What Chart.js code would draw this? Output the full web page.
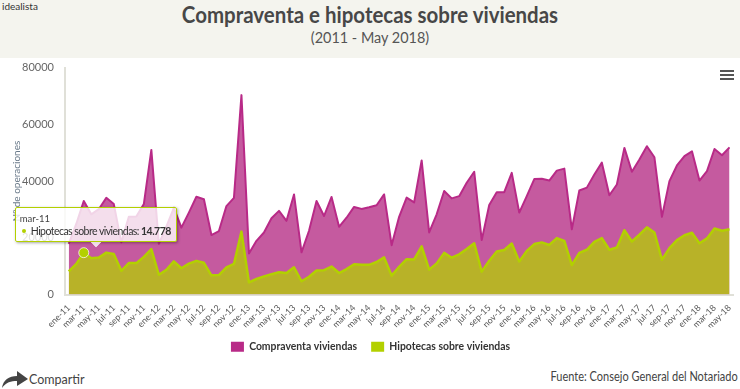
<!DOCTYPE html>
<html><head><meta charset="utf-8">
<script src="https://cdn.jsdelivr.net/npm/chart.js@4"></script>
<style>
html,body{margin:0;padding:0;background:#fff;width:740px;height:389px;overflow:hidden;font-family:Lato,sans-serif}
#hdr{position:absolute;left:0;top:0;width:740px;height:58px;background:#f4f4ee}
#brand{position:absolute;left:2px;top:0;font-size:10px;color:#333}
#ttl{position:absolute;left:0;width:740px;top:1px;text-align:center;font-size:22px;font-weight:700;color:#474747;transform:scaleX(.93)}
#sub{position:absolute;left:0;width:740px;top:28px;text-align:center;font-size:15.5px;color:#555;transform:scaleX(.93)}
#wrap{position:absolute;left:0;top:58px;width:740px;height:304px}
#menu{position:absolute;left:720px;top:70px;width:14px;height:10px;border-top:2px solid #555;}
#menu:before,#menu:after{content:"";position:absolute;left:0;width:14px;height:2px;background:#555}
#menu:before{top:2px}#menu:after{top:6px}
#share{position:absolute;left:29px;top:372px;font-size:12.5px;color:#444}
#src{position:absolute;right:2px;top:369px;font-size:12.5px;color:#444;transform:scaleX(.88);transform-origin:right center}
#arrow{position:absolute;left:2px;top:371px}
#tip{position:absolute;box-sizing:border-box;width:162px;height:35px;background:rgba(255,255,255,.8);border:1px solid #b3d000;box-shadow:1px 1px 3px rgba(0,0,0,.35);border-radius:2px;padding:5px 4px;font:10.5px Lato,sans-serif;letter-spacing:-.55px;color:#333;white-space:nowrap;pointer-events:none}
#tip .h{font-size:9.5px;line-height:11px;color:#444;margin-bottom:1px;letter-spacing:0}
#tip i{display:inline-block;width:4px;height:4px;border-radius:50%;margin:0 5px 2px 2px;background:#b3d000}
#tip:after{content:"";position:absolute;left:76px;bottom:-5px;width:8px;height:8px;background:rgba(255,255,255,.8);transform:rotate(45deg);clip-path:polygon(100% 0,100% 100%,0 100%)}
</style></head><body>
<div id="hdr"></div>
<div id="brand">idealista</div>
<div id="ttl">Compraventa e hipotecas sobre viviendas</div>
<div id="sub">(2011 - May 2018)</div>
<div id="wrap"><canvas id="c"></canvas></div>
<div id="menu"></div>
<svg id="arrow" width="26" height="17" viewBox="0 0 26 17"><path d="M0 17C1 9 7 5 15 5V0L26 8 15 15V10C9 10 4 11 0 17Z" fill="#444"/></svg>
<div id="share">Compartir</div>
<div id="src">Fuente: Consejo General del Notariado</div>
<script>
const months=["ene","feb","mar","abr","may","jun","jul","ago","sep","oct","nov","dic"];
const years=["11","12","13","14","15","16","17","18"];
const categories=[];
for(const y of years){for(const m of months){categories.push(m+"-"+y);}}
categories.length=89;
const compraventa=[17900,24900,33000,28300,30100,34100,31900,18400,27400,27500,31900,51000,
17900,24000,30600,23600,28900,34500,33600,21000,22400,31200,34100,70300,
14500,18950,21900,26900,29500,26000,35300,14900,22500,33000,27700,34400,
23900,27100,30900,30200,30800,31500,35300,17400,27400,34200,32500,47300,
21900,28300,36500,33900,34700,39400,43300,19200,31600,36100,36100,42900,
28900,34700,40700,40800,40200,43700,44400,23000,36700,37700,42300,46500,
35000,38800,51700,43300,47600,52300,48400,27400,40000,45500,48800,50500,
40200,43500,51300,49100,51900];
const hipotecas=[8200,10800,14778,12800,13100,14800,14300,8400,11100,11100,13300,16000,
7000,8700,11700,9300,10900,11900,11200,6800,6900,9600,10800,22200,
4300,5500,6400,7200,7900,7600,9600,4700,6300,8500,8600,9900,
7600,9000,10700,10500,10500,11500,13100,6700,9800,12500,12400,17000,
8800,11000,14700,13000,14200,16100,18100,8100,11900,15200,15700,18000,
11700,15400,17800,18400,17500,19900,18900,10400,14700,15800,18600,19900,
15800,16600,22700,18700,21100,23700,21900,12300,16400,19200,20900,21800,
18100,19800,23300,22500,23000];
const C1="#b82a87",C2="#b3d000";
function ext({chart,tooltip}){
  let el=document.getElementById('tip');
  if(!el){el=document.createElement('div');el.id='tip';document.body.appendChild(el);}
  if(!tooltip.dataPoints||!tooltip.dataPoints.length){el.style.display='none';return;}
  const p=tooltip.dataPoints[0];
  const v=String(p.raw).replace(/\B(?=(\d{3})+$)/g,'.');
  el.innerHTML='<div class="h">'+p.label+'</div><i></i>'+p.dataset.label+': <b>'+v+'</b>';
  el.style.display='block';
  const r=chart.canvas.getBoundingClientRect();
  el.style.left=(r.left+tooltip.caretX-69)+'px';
  el.style.top=(r.top+tooltip.caretY-46)+'px';
}
const chart=new Chart(document.getElementById('c'),{
  type:'line',
  data:{labels:categories,datasets:[
    {label:'Compraventa viviendas',data:compraventa,borderColor:C1,backgroundColor:'rgba(180,40,130,.77)',fill:'origin',order:2,borderWidth:2,borderJoinStyle:'round',tension:0,pointRadius:0},
    {label:'Hipotecas sobre viviendas',data:hipotecas,borderColor:C2,backgroundColor:'rgba(179,208,0,.75)',fill:'origin',order:1,borderWidth:2.5,borderJoinStyle:'round',tension:0,pointRadius:0,pointHoverRadius:5,pointHoverBackgroundColor:C2,pointHoverBorderColor:'rgba(255,255,255,.75)',pointHoverBorderWidth:1}
  ]},
  options:{
    responsive:true,maintainAspectRatio:false,animation:false,events:[],
    layout:{padding:{top:5,right:5,left:6,bottom:0}},
    plugins:{
      title:{display:false},
      legend:{position:'bottom',labels:{boxWidth:13,boxHeight:10,padding:14,color:'#333',font:{family:'Lato',size:10.4,weight:'700'},
        sort:(a,b)=>a.datasetIndex-b.datasetIndex,
        generateLabels(c){return Chart.defaults.plugins.legend.labels.generateLabels(c).map(l=>({...l,fillStyle:l.strokeStyle,lineWidth:0}));}}},
      tooltip:{enabled:false,external:ext}
    },
    scales:{
      x:{offset:true,
        grid:{display:false,drawTicks:true,tickColor:'#dfdfd6',tickLength:5,offset:false},
        border:{color:'#e0e0d8',width:2},
        ticks:{autoSkip:false,maxRotation:45,minRotation:45,padding:3,color:'#555',font:{family:'Lato',size:8.8},
          callback(v,i){return i%2===0?this.getLabelForValue(v):'';}},
        afterFit(s){s.height=33;}
      },
      y:{min:0,max:80000,
        grid:{display:false,drawTicks:true,tickColor:'#dfdfd6',tickLength:8},
        border:{color:'#e0e0d8',width:2},
        title:{display:true,text:'Nº de operaciones',color:'#6a7a8a',font:{family:'Lato',size:10},padding:{top:5,bottom:0}},
        ticks:{stepSize:20000,padding:3,color:'#666',font:{family:'Lato',size:11},callback(v){return String(v);}},
        afterFit(s){s.width=59;}
      }
    }
  }
});
const act=[{datasetIndex:1,index:2}];
chart.setActiveElements(act);
chart.tooltip.setActiveElements(act,{x:0,y:0});
chart.update('none');
</script>
</body></html>
